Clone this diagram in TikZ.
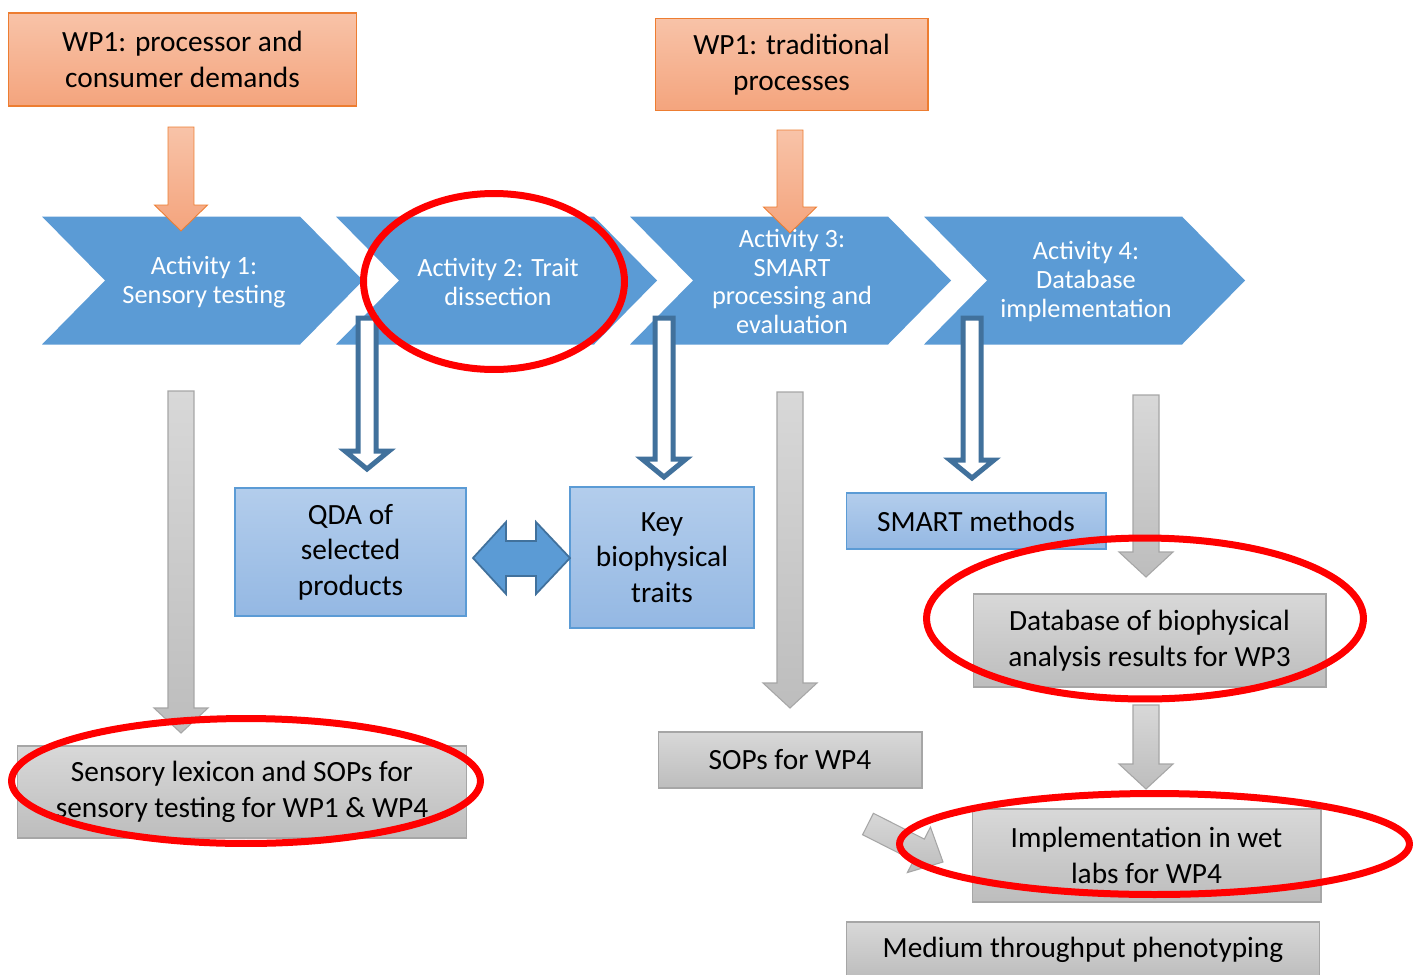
\documentclass[tikz,border=0pt]{standalone}
\usepackage{fontspec}
\setmainfont{Carlito}
\usetikzlibrary{positioning}
\usetikzlibrary{calc}

\definecolor{actblue}{HTML}{5B9BD5}
\definecolor{darkblue}{HTML}{41719C}
\definecolor{orangeline}{HTML}{ED7D31}
\definecolor{orangetop}{HTML}{F8C3A8}
\definecolor{orangebot}{HTML}{F4A47D}
\definecolor{bluetop}{HTML}{B3CDEC}
\definecolor{bluebot}{HTML}{94B8E3}
\definecolor{graytop}{HTML}{D8D8D8}
\definecolor{graybot}{HTML}{BDBDBD}
\definecolor{grayline}{HTML}{A6A6A6}
\definecolor{markred}{HTML}{FF0000}

% block arrow: style, from, to, half shaft, half head, head length
\newcommand{\blockarrow}[6]{%
	\coordinate (hb) at ($(#3)!#6!(#2)$);
	\draw[#1] ($(#2)!#4!90:(#3)$) -- ($(hb)!#4!90:(#3)$) -- ($(hb)!#5!90:(#3)$) -- (#3)
	-- ($(hb)!#5!-90:(#3)$) -- ($(hb)!#4!-90:(#3)$) -- ($(#2)!#4!-90:(#3)$) -- cycle;
}

\tikzset{
	box/.style={draw, line width=0.6pt, inner sep=0pt, align=center,
		font=\fontsize{16.7}{20.3}\selectfont},
	wpbox/.style={box, draw=orangeline, top color=orangetop, bottom color=orangebot},
	resbox/.style={box, draw=actblue, top color=bluetop, bottom color=bluebot},
	outbox/.style={box, draw=grayline, top color=graytop, bottom color=graybot},
	acttext/.style={text=white, align=center, font=\fontsize{15}{16.4}\selectfont},
	wparrow/.style={draw=orangeline, line width=0.5pt, top color=orangetop, bottom color=orangebot},
	grayarrow/.style={draw=grayline, line width=0.6pt, top color=graytop, bottom color=graybot},
	hollow/.style={draw=darkblue, fill=white, line width=0.1cm},
	dblarrow/.style={draw=darkblue, fill=actblue, line width=1pt},
	redmark/.style={draw=markred, line width=0.14cm}
}

\begin{document}
\begin{tikzpicture}[x=0.02cm, y=-0.02cm]
	\useasboundingbox (0,0) rectangle (1413,974);
	\clip (0,0) rectangle (1413,974);
	\fill[white] (0,0) rectangle (1413,974);

	%% activities
	\foreach \l in {42,336,630,924}
	\fill[actblue] (\l,216.5) -- ++(258,0) -- ++(63,64) -- ++(-63,64) -- ++(-258,0) -- ++(63,-64) -- cycle;
	\node[acttext] (act1) at (204,282) {Activity 1:\\Sensory testing};
	\node[acttext] (act2) at (498,282) {Activity 2: Trait\\dissection};
	\node[acttext] (act3) at (792,281.5) {Activity 3:\\SMART\\processing and\\evaluation};
	\node[acttext] (act4) at (1086,281.5) {Activity 4:\\Database\\implementation};

	%% WP1 inputs
	\node[wpbox, minimum width=6.98cm, minimum height=1.86cm] (wpdemand) at (182.5,59.5) {WP1: processor and\\consumer demands};
	\node[wpbox, minimum width=5.46cm, minimum height=1.84cm] (wpprocess) at (791.5,64.5) {WP1: traditional\\processes};
	\coordinate (o1) at (181,127);
	\coordinate (o1t) at (181,231);
	\coordinate (o2) at (790,130);
	\coordinate (o2t) at (790,233);
	\blockarrow{wparrow}{o1}{o1t}{0.26cm}{0.53cm}{0.52cm}
	\blockarrow{wparrow}{o2}{o2t}{0.26cm}{0.53cm}{0.52cm}

	%% results
	\node[resbox, minimum width=4.62cm, minimum height=2.56cm] (qda) at (350.5,552) {QDA of\\selected\\products};
	\node[resbox, minimum width=3.68cm, minimum height=2.82cm] (keytraits) at (662,557.5) {Key\\biophysical\\traits};
	\node[resbox, minimum width=5.2cm, minimum height=1.12cm] (smart) at (976,521) {SMART methods};
	\coordinate (h1) at (367,318);
	\coordinate (h1t) at (367,469);
	\coordinate (h2) at (664,318);
	\coordinate (h2t) at (664,477);
	\coordinate (h3) at (972,318);
	\coordinate (h3t) at (972,478);
	\blockarrow{hollow}{h1}{h1t}{0.18cm}{0.44cm}{0.36cm}
	\blockarrow{hollow}{h2}{h2t}{0.18cm}{0.44cm}{0.36cm}
	\blockarrow{hollow}{h3}{h3t}{0.18cm}{0.44cm}{0.36cm}
	\coordinate (dl) at (473,558);
	\coordinate (dr) at (570,558);
	\draw[dblarrow] (dl) -- ++(33,-36) -- ++(0,19) -- ++(30,0) -- ++(0,-19) -- (dr)
	-- ++(-34,36) -- ++(0,-18) -- ++(-30,0) -- ++(0,18) -- cycle;

	%% outputs
	\node[outbox, minimum width=9cm, minimum height=1.84cm] (lexicon) at (242,792) {Sensory lexicon and SOPs for\\sensory testing for WP1 \& WP4};
	\node[outbox, minimum width=5.28cm, minimum height=1.12cm] (sops) at (790,760) {SOPs for WP4};
	\node[outbox, minimum width=7.06cm, minimum height=1.86cm] (database) at (1149.5,640.5) {Database of biophysical\\analysis results for WP3};
	\node[outbox, minimum width=6.98cm, minimum height=1.86cm] (wetlabs) at (1146.5,855.5) {Implementation in wet\\labs for WP4};
	\node[outbox, minimum width=9.48cm, minimum height=1.12cm] (medium) at (1083,950) {Medium throughput phenotyping};
	\coordinate (g1) at (181,391);
	\coordinate (g1t) at (181,733);
	\coordinate (g2) at (790,392);
	\coordinate (g2t) at (790,708);
	\coordinate (g3) at (1146,395);
	\coordinate (g3t) at (1146,577);
	\coordinate (g4) at (1146,705);
	\coordinate (g4t) at (1146,789);
	\coordinate (g5) at (868,824);
	\coordinate (g5t) at (943,862);
	\blockarrow{grayarrow}{g1}{g1t}{0.26cm}{0.54cm}{0.5cm}
	\blockarrow{grayarrow}{g2}{g2t}{0.26cm}{0.54cm}{0.5cm}
	\blockarrow{grayarrow}{g3}{g3t}{0.26cm}{0.54cm}{0.5cm}
	\blockarrow{grayarrow}{g4}{g4t}{0.26cm}{0.54cm}{0.5cm}
	\blockarrow{grayarrow}{g5}{g5t}{0.24cm}{0.51cm}{0.54cm}

	%% red marks
	\draw[redmark] (494,281.5) ellipse [x radius=2.61cm, y radius=1.76cm];
	\draw[redmark] (246,781) ellipse [x radius=4.69cm, y radius=1.25cm];
	\draw[redmark] (1145,618.5) ellipse [x radius=4.37cm, y radius=1.61cm];
	\draw[redmark] (1154.5,844) ellipse [x radius=5.1cm, y radius=1.01cm];
\end{tikzpicture}
\end{document}
